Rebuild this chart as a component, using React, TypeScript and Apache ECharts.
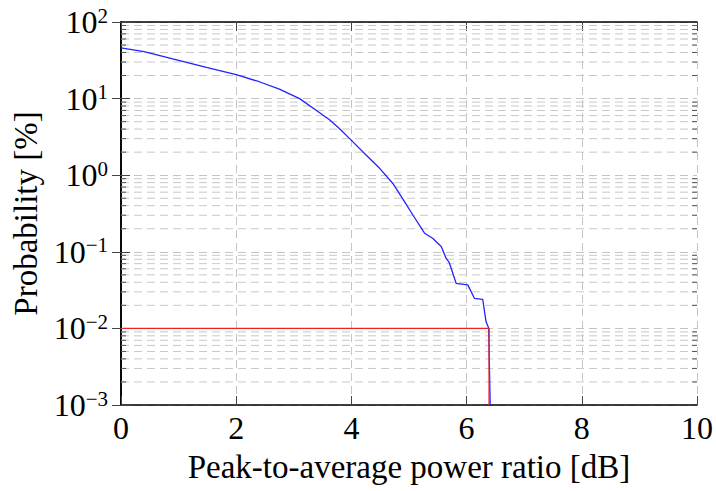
import React, { useEffect, useRef } from "react";
import * as echarts from "echarts";

// Blue CCDF curve (x in dB, y in %)
const papr = [0, 0.4, 1.0, 1.5, 2.0, 2.4, 2.75, 3.1, 3.4, 3.62, 3.8, 4.0, 4.25, 4.49, 4.72, 4.9, 5.07, 5.27, 5.41, 5.56, 5.645, 5.7, 5.818, 6.02, 6.135, 6.279, 6.338, 6.383, 6.41];
const prob = [46, 41, 31.5, 25.3, 20.5, 16.6, 13.3, 10.0, 6.95, 5.3, 4.0, 2.85, 1.85, 1.23, 0.78, 0.48, 0.3, 0.175, 0.15, 0.117, 0.082, 0.072, 0.0388, 0.037, 0.0247, 0.024, 0.0122, 0.0101, 0.001];

// Red marker: 10^-2 threshold
const markerX = [0, 6.39, 6.39];
const markerY = [0.01, 0.01, 0.001];

const xTicks = [0, 2, 4, 6, 8, 10];
const decades = [0.001, 0.01, 0.1, 1, 10, 100];
const minorMultipliers = [2, 3, 4, 5, 6, 7, 8, 9];

const FONT = "'Liberation Serif', 'Times New Roman', serif";

export default function App() {
  const ref = useRef<HTMLDivElement>(null);
  useEffect(() => {
    if (!ref.current) return;
    const chart = echarts.init(ref.current, undefined, { renderer: "svg" });
    const minorVals: number[][] = [];
    for (let i = 0; i < decades.length - 1; i++) {
      for (const m of minorMultipliers) minorVals.push([0, decades[i] * m]);
    }
    const xMin = xTicks[0];
    const xMax = xTicks[xTicks.length - 1];
    const yMin = decades[0];
    const yMax = decades[decades.length - 1];
    const axisLineStyle = { color: "#000", width: 1.6 };
    const tickStyle = { color: "#444", width: 1 };
    const gridStyle = { color: "#c4c4c4", width: 1, type: [8, 5] as any };
    chart.setOption({
      animation: false,
      textStyle: { fontFamily: FONT },
      grid: { left: 121, right: 18, top: 22, bottom: 86, containLabel: false },
      xAxis: [
        {
          type: "value",
          min: xMin,
          max: xMax,
          interval: 2,
          position: "bottom",
          axisLine: { show: true, lineStyle: axisLineStyle },
          axisTick: { show: true, inside: true, length: 9, lineStyle: tickStyle },
          splitLine: { show: true, lineStyle: gridStyle },
          axisLabel: { fontSize: 32, color: "#000", fontFamily: FONT, margin: 7 },
          name: "Peak-to-average power ratio [dB]",
          nameLocation: "middle",
          nameGap: 45,
          nameTextStyle: { fontSize: 33, color: "#000", fontFamily: FONT },
        },
        {
          type: "value",
          min: xMin,
          max: xMax,
          interval: 2,
          position: "top",
          axisLine: { show: true, lineStyle: axisLineStyle },
          axisTick: { show: true, inside: true, length: 9, lineStyle: tickStyle },
          splitLine: { show: false },
          axisLabel: { show: false },
        },
      ],
      yAxis: [
        {
          type: "log",
          logBase: 10,
          min: yMin,
          max: yMax,
          position: "left",
          axisLine: { show: true, lineStyle: axisLineStyle },
          axisTick: { show: true, inside: true, length: 9, lineStyle: tickStyle },
          splitLine: { show: true, lineStyle: gridStyle },
          axisLabel: {
            margin: 13,
            color: "#000",
            formatter: (v: number) => {
              const e = Math.round(Math.log10(v));
              const s = e < 0 ? "\u2212" + Math.abs(e) : String(e);
              return `{b|10}{s|${s}}`;
            },
            rich: {
              b: { fontSize: 32, fontFamily: FONT, color: "#000", lineHeight: 34 },
              s: { fontSize: 21, fontFamily: FONT, color: "#000", lineHeight: 14, verticalAlign: "top" },
            },
          },
          name: "Probability [%]",
          nameLocation: "middle",
          nameGap: 77,
          nameRotate: 90,
          nameTextStyle: { fontSize: 33, color: "#000", fontFamily: FONT },
        },
        {
          type: "log",
          logBase: 10,
          min: yMin,
          max: yMax,
          position: "right",
          axisLine: { show: true, lineStyle: axisLineStyle },
          axisTick: { show: true, inside: true, length: 9, lineStyle: tickStyle },
          splitLine: { show: false },
          axisLabel: { show: false },
        },
      ],
      series: [
        {
          type: "custom",
          xAxisIndex: 0,
          yAxisIndex: 0,
          z: 1,
          silent: true,
          data: minorVals,
          encode: { x: 0, y: 1 },
          renderItem: (params: any, api: any) => {
            const v = api.value(1);
            const pL = api.coord([xMin, v]);
            const pR = api.coord([xMax, v]);
            return {
              type: "group",
              children: [
                {
                  type: "line",
                  shape: { x1: pL[0], y1: pL[1], x2: pR[0], y2: pR[1] },
                  style: { stroke: "#c8c8c8", lineWidth: 1, lineDash: [8, 5] },
                },
                {
                  type: "line",
                  shape: { x1: pL[0], y1: pL[1], x2: pL[0] + 5, y2: pL[1] },
                  style: { stroke: "#555", lineWidth: 1 },
                },
                {
                  type: "line",
                  shape: { x1: pR[0] - 5, y1: pR[1], x2: pR[0], y2: pR[1] },
                  style: { stroke: "#555", lineWidth: 1 },
                },
              ],
            };
          },
        },
        {
          type: "line",
          xAxisIndex: 0,
          yAxisIndex: 0,
          z: 3,
          showSymbol: false,
          symbol: "none",
          data: papr.map((x, i) => [x, prob[i]]),
          lineStyle: { color: "#2222ff", width: 1.3 },
        },
        {
          type: "line",
          xAxisIndex: 0,
          yAxisIndex: 0,
          z: 4,
          showSymbol: false,
          symbol: "none",
          data: markerX.map((x, i) => [x, markerY[i]]),
          lineStyle: { color: "#ee2222", width: 1.3 },
        },
      ],
    });
    return () => chart.dispose();
  }, []);
  return (
    <div
      ref={ref}
      style={{ position: "absolute", left: 0, top: 0, width: 716, height: 491 }}
    />
  );
}
